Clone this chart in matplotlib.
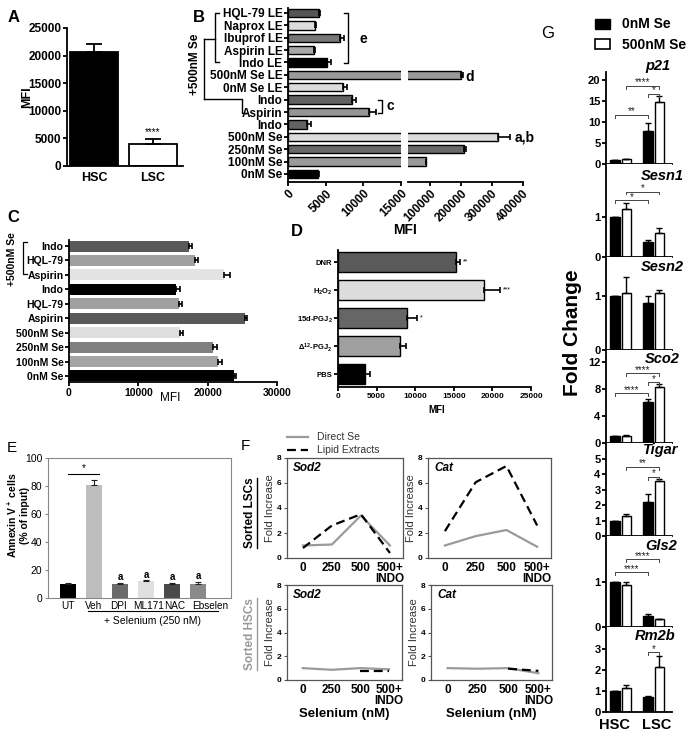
import numpy as np
import matplotlib
matplotlib.use('Agg')
import matplotlib.pyplot as plt
from matplotlib.lines import Line2D
from matplotlib.patches import Rectangle

# ---------------- data ----------------
a_cats = ['HSC', 'LSC']
a_vals = [20600, 3900]
a_errs = [1500, 1000]

b_cats = ['0nM Se', '100nM Se', '250nM Se', '500nM Se', 'Indo', 'Aspirin', 'Indo',
          '0nM Se LE', '500nM Se LE', 'Indo LE', 'Aspirin LE', 'Ibuprof LE', 'Naprox LE', 'HQL-79 LE']
b_vals = [4000, 88400, 210700, 318900, 2540, 10770, 8550, 7340, 199900, 5200, 3470, 6900, 3560, 4140]
b_errs = [150, 1000, 5000, 37800, 450, 900, 450, 450, 7600, 500, 100, 500, 100, 150]
b_xticks1 = [0, 5000, 10000, 15000]
b_xticks2 = [100000, 200000, 300000, 400000]

c_cats = ['0nM Se', '100nM Se', '250nM Se', '500nM Se', 'Aspirin', 'HQL-79', 'Indo',
          'Aspirin', 'HQL-79', 'Indo']
c_vals = [23850, 21500, 20700, 16000, 25400, 15900, 15500, 22400, 18200, 17300]
c_errs = [200, 580, 600, 450, 340, 350, 500, 800, 350, 400]

d_cats = ['PBS', 'Δ$^{12}$-PGJ$_2$', '15d-PGJ$_2$', 'H$_2$O$_2$', 'DNR']
d_vals = [3550, 8000, 9000, 18970, 15250]
d_errs = [560, 870, 1170, 1950, 560]
d_sig = ['', '', '*', '***', '**']

e_cats = ['UT', 'Veh', 'DPI', 'ML171', 'NAC', 'Ebselen']
e_vals = [10, 81, 10, 12, 10, 10]
e_errs = [0.4, 3.5, 0.6, 0.6, 0.8, 1.5]
e_sig = ['', '', 'a', 'a', 'a', 'a']

f_doses = ['0', '250', '500', '500+\nINDO']
f_sod2_lsc_direct = [1.0, 1.08, 3.4, 1.0]
f_sod2_lsc_lipid = [0.8, 2.6, 3.5, 0.4]
f_cat_lsc_direct = [1.0, 1.75, 2.24, 0.9]
f_cat_lsc_lipid = [2.15, 6.06, 7.36, 2.6]
f_sod2_hsc_direct = [1.0, 0.86, 1.0, 0.9]
f_sod2_hsc_lipid = [np.nan, np.nan, 0.8, 0.8]
f_cat_hsc_direct = [1.0, 0.95, 1.0, 0.57]
f_cat_hsc_lipid = [np.nan, np.nan, 0.95, 0.77]

g_groups = ['HSC', 'LSC']
g_genes = ['p21', 'Sesn1', 'Sesn2', 'Sco2', 'Tigar', 'Gls2', 'Rm2b']
g_vals_0 = [[1.0, 7.9], [1.0, 0.37], [1.0, 0.87], [1.0, 6.1], [1.0, 2.2], [1.0, 0.24], [1.0, 0.72]]
g_errs_0 = [[0, 1.8], [0, 0.05], [0, 0.12], [0, 0.5], [0, 0.5], [0, 0.05], [0, 0.06]]
g_vals_500 = [[1.1, 14.7], [1.2, 0.6], [1.05, 1.05], [1.1, 8.3], [1.3, 3.6], [0.93, 0.18], [1.15, 2.15]]
g_errs_500 = [[0.1, 1.4], [0.15, 0.12], [0.3, 0.06], [0.1, 0.5], [0.12, 0.12], [0.08, 0.0], [0.15, 0.5]]

# ---------------- style ----------------
plt.rcParams['font.family'] = ['Liberation Sans', 'DejaVu Sans']
plt.rcParams['mathtext.fontset'] = 'custom'
plt.rcParams['mathtext.rm'] = 'Liberation Sans:bold'
plt.rcParams['mathtext.bf'] = 'Liberation Sans:bold'
plt.rcParams['mathtext.it'] = 'Liberation Sans:italic:bold'
plt.rcParams['mathtext.default'] = 'rm'

W, H = 695, 735
fig = plt.figure(figsize=(W / 100, H / 100), dpi=100)


def rect(l, t, r, b):
    return [l / W, 1 - b / H, (r - l) / W, (b - t) / H]


def ftext(x, y, s, **kw):
    return fig.text(x / W, 1 - y / H, s, **kw)


def fline(xs, ys, **kw):
    fig.add_artist(Line2D([x / W for x in xs], [1 - y / H for y in ys],
                          transform=fig.transFigure, **kw))


def gp_axes(ax, lw=1.3):
    for s in ['top', 'right']:
        ax.spines[s].set_visible(False)
    for s in ['left', 'bottom']:
        ax.spines[s].set_linewidth(lw)
    ax.tick_params(direction='out', length=3, width=lw, pad=1)


def hbars(ax, vals, errs, colors, h, edge=True):
    y = np.arange(len(vals))
    ax.barh(y, vals, height=h, color=colors, edgecolor='black' if edge else 'none',
            linewidth=1.0)
    ax.errorbar(vals, y, xerr=[np.zeros(len(vals)), errs], fmt='none', ecolor='black',
                elinewidth=1.2, capsize=2.5, capthick=1.2)
    return y


# ---------------- Panel A ----------------
axA = fig.add_axes(rect(67, 28, 183, 166))
gp_axes(axA)
xa = np.arange(len(a_vals))
axA.bar(xa, a_vals, width=0.82, color=['black', 'white'], edgecolor='black', linewidth=1.3)
axA.errorbar(xa, a_vals, yerr=[np.zeros(2), a_errs], fmt='none', ecolor='black',
             elinewidth=1.3, capsize=6, capthick=1.3)
axA.set_xlim(-0.46, 1.51)
axA.set_ylim(0, 25000)
axA.set_yticks([0, 5000, 10000, 15000, 20000, 25000])
axA.set_xticks(xa)
axA.set_xticklabels(a_cats, fontsize=9, fontweight='bold')
axA.tick_params(axis='x', length=0, pad=4)
for lab in axA.get_yticklabels():
    lab.set_fontsize(8.5); lab.set_fontweight('bold')
axA.text(1, a_vals[1] + a_errs[1] + 300, '****', ha='center', va='bottom', fontsize=7)
ftext(27, 97, 'MFI', rotation=90, ha='center', va='center', fontsize=9, fontweight='bold')
ftext(14, 18, 'A', fontsize=12, fontweight='bold', ha='center', va='center')

# ---------------- Panel B ----------------
b_colors = ['black', '#9a9a9a', '#6a6a6a', '#dcdcdc', '#626262', '#959595', '#626262',
            '#dcdcdc', '#9a9a9a', 'black', '#a8a8a8', '#777777', '#dcdcdc', '#555555']
axB1 = fig.add_axes(rect(288, 8, 401, 182))
axB2 = fig.add_axes(rect(408, 8, 523, 182))
for ax in (axB1, axB2):
    gp_axes(ax)
    hbars(ax, b_vals, b_errs, b_colors, 0.68)
    ax.set_ylim(-0.65, 13.4)
axB1.set_xlim(0, 15000)
axB2.set_xlim(30000, 400000)
axB1.set_xticks(b_xticks1)
axB2.set_xticks(b_xticks2)
axB1.set_yticks(np.arange(len(b_cats)))
axB1.set_yticklabels(b_cats, fontsize=8.5, fontweight='bold')
axB2.spines['left'].set_visible(False)
axB2.set_yticks([])
for ax in (axB1, axB2):
    for lab in ax.get_xticklabels():
        lab.set_rotation(45); lab.set_ha('right'); lab.set_rotation_mode('anchor')
        lab.set_fontsize(8.5); lab.set_fontweight('bold')
ftext(405, 230, 'MFI', ha='center', va='center', fontsize=10, fontweight='bold')
ftext(199, 17, 'B', fontsize=12, fontweight='bold', ha='center', va='center')
ftext(195, 64, '+500nM Se', rotation=90, ha='center', va='center', fontsize=8.5,
      fontweight='bold')
lk = dict(color='black', lw=1.0)
fline([219, 215, 215, 219], [13, 13, 62, 62], **lk)
fline([204, 215], [39, 39], **lk)
fline([204, 204], [39, 99], **lk)
fline([204, 242, 242, 246], [99, 99, 113, 113], **lk)
fline([344, 348, 348, 344], [13, 13, 63, 63], **lk)
ftext(363, 39, 'e', fontsize=10, fontweight='bold', ha='center', va='center')
fline([378, 382, 382, 378], [100, 100, 113, 113], **lk)
ftext(390, 106, 'c', fontsize=10, fontweight='bold', ha='center', va='center')
ftext(470, 77, 'd', fontsize=10, fontweight='bold', ha='center', va='center')
ftext(515, 137, 'a,b', fontsize=10, fontweight='bold', ha='left', va='center')

# ---------------- Panel C ----------------
c_colors = ['black', '#a5a5a5', '#808080', '#dedede', '#595959', '#a0a0a0', 'black',
            '#e3e3e3', '#a0a0a0', '#595959']
axC = fig.add_axes(rect(69, 240, 277, 382))
gp_axes(axC)
hbars(axC, c_vals, c_errs, c_colors, 0.76, edge=False)
axC.set_xlim(0, 30000)
axC.set_ylim(-0.42, 9.42)
axC.set_xticks([0, 10000, 20000, 30000])
axC.set_yticks(np.arange(len(c_cats)))
axC.set_yticklabels(c_cats, fontsize=7.5, fontweight='bold')
for lab in axC.get_xticklabels():
    lab.set_fontsize(7.5); lab.set_fontweight('bold')
ftext(170, 398, 'MFI', ha='center', va='center', fontsize=8.5)
ftext(13, 218, 'C', fontsize=12, fontweight='bold', ha='center', va='center')
ftext(12, 259, '+500nM Se', rotation=90, ha='center', va='center', fontsize=7.5,
      fontweight='bold')
fline([27, 23, 23, 27], [242, 242, 274, 274], color='black', lw=0.9)

# ---------------- Panel D ----------------
d_colors = ['black', '#a0a0a0', '#666666', '#dcdcdc', '#5a5a5a']
axD = fig.add_axes(rect(338, 250, 531, 387))
gp_axes(axD)
yd = hbars(axD, d_vals, d_errs, d_colors, 0.72)
axD.set_xlim(0, 25000)
axD.set_ylim(-0.46, 4.43)
axD.set_xticks([0, 5000, 10000, 15000, 20000, 25000])
axD.set_yticks(yd)
axD.set_yticklabels(d_cats, fontsize=5.5, fontweight='bold')
for lab in axD.get_xticklabels():
    lab.set_fontsize(6); lab.set_fontweight('bold')
for y, v, e, s in zip(yd, d_vals, d_errs, d_sig):
    if s:
        axD.text(v + e + 400, y, s, ha='left', va='center', fontsize=5)
ftext(437, 410, 'MFI', ha='center', va='center', fontsize=7, fontweight='bold')
ftext(297, 231, 'D', fontsize=12, fontweight='bold', ha='center', va='center')

# ---------------- Panel E ----------------
e_colors = ['black', '#bdbdbd', '#6a6a6a', '#e0e0e0', '#4a4a4a', '#8a8a8a']
axE = fig.add_axes(rect(48, 458, 231, 598))
xe = np.arange(len(e_vals))
axE.bar(xe, e_vals, width=0.58, color=e_colors)
axE.errorbar(xe, e_vals, yerr=[np.zeros(len(xe)), e_errs], fmt='none', ecolor='#222',
             elinewidth=0.8, capsize=2, capthick=0.8)
for s in axE.spines.values():
    s.set_color('#888888'); s.set_linewidth(0.8)
axE.set_xlim(-0.77, 6.27)
axE.set_ylim(0, 100)
axE.set_yticks([0, 20, 40, 60, 80, 100])
axE.tick_params(axis='y', length=2, width=0.8, pad=2, labelsize=7.5, color='#888888')
axE.set_xticks(xe + np.array([0, 0, -0.04, 0.08, 0.12, 0.46]))
axE.set_xticklabels(e_cats, fontsize=7.2)
axE.tick_params(axis='x', length=0, pad=2)
for x, v, e, s in zip(xe, e_vals, e_errs, e_sig):
    if s:
        axE.text(x, v + e + 0.5, s, ha='center', va='bottom', fontsize=7, fontweight='bold')
axE.plot([0, 1.2], [88.6, 88.6], color='black', lw=0.8)
axE.text(0.6, 89, '*', ha='center', va='bottom', fontsize=7)
fline([88, 218], [611, 611], color='black', lw=0.8)
ftext(153, 621, '+ Selenium (250 nM)', ha='center', va='center', fontsize=7.5)
ftext(18, 515, 'Annexin V$^+$ cells\n(% of input)', rotation=90, ha='center', va='center',
      fontsize=7.5, fontweight='bold', linespacing=1.1)
ftext(12, 448, 'E', fontsize=11, ha='center', va='center')

# ---------------- Panel F ----------------
f_panels = [
    ((287, 458, 403, 558), 'Sod2', f_sod2_lsc_direct, f_sod2_lsc_lipid, False),
    ((428, 458, 551, 558), 'Cat', f_cat_lsc_direct, f_cat_lsc_lipid, False),
    ((287, 585, 402, 680), 'Sod2', f_sod2_hsc_direct, f_sod2_hsc_lipid, True),
    ((431, 585, 552, 680), 'Cat', f_cat_hsc_direct, f_cat_hsc_lipid, True),
]
xf = np.arange(len(f_doses))
for (l, t, r, b), name, direct, lipid, bottom in f_panels:
    ax = fig.add_axes(rect(l, t, r, b))
    ax.plot(xf, direct, color='#9a9a9a', lw=1.6)
    ax.plot(xf, lipid, color='black', lw=1.6, ls=(0, (4, 2.2)))
    ax.set_xlim(-0.55, 3.45)
    ax.set_ylim(0, 8)
    ax.set_yticks([0, 2, 4, 6, 8])
    ax.set_xticks(xf)
    ax.set_xticklabels(f_doses, fontsize=8.5, fontweight='bold', linespacing=0.85)
    for lab in ax.get_yticklabels():
        lab.set_fontsize(6); lab.set_fontweight('bold')
    for s in ax.spines.values():
        s.set_color('#555555'); s.set_linewidth(0.9)
    ax.tick_params(axis='y', length=2, width=0.8, pad=2, color='#555555')
    ax.tick_params(axis='x', length=0, pad=3)
    ax.set_ylabel('Fold Increase', fontsize=8, color='#333333', labelpad=1)
    ax.text(0.05, 0.96, name, transform=ax.transAxes, ha='left', va='top', fontsize=8.5,
            fontweight='bold', fontstyle='italic')
    if bottom:
        ax.set_xlabel('Selenium (nM)', fontsize=9.5, fontweight='bold', labelpad=1)

fline([287, 308], [437, 437], color='#9a9a9a', lw=1.6)
fline([287, 308], [450, 450], color='black', lw=1.6, ls=(0, (4, 2.2)))
ftext(317, 437, 'Direct Se', fontsize=7.5, ha='left', va='center', color='#333333')
ftext(317, 450, 'Lipid Extracts', fontsize=7.5, ha='left', va='center', color='#333333')
ftext(245, 446, 'F', fontsize=11, ha='center', va='center')
row_labels = [(250, 513, 'Sorted LSCs', 'black'), (250, 634, 'Sorted HSCs', '#9a9a9a')]
row_texts = []
for x, y, s, c in row_labels:
    row_texts.append((ftext(x, y, s, rotation=90, ha='center', va='center', fontsize=8.5,
                            fontweight='bold', color=c), c))

# ---------------- Panel G ----------------
g_px = [(72, 164), (164, 257), (257, 350), (350, 443), (443, 536), (536, 627), (627, 712)]
g_ylim = [21.9, 2.33, 1.72, 13.8, 6.04, 2.02, 4.05]
g_yticks = [[0, 5, 10, 15, 20], [0, 1], [0, 1], [0, 4, 8, 12], [0, 1, 2, 3, 4, 5], [0, 1],
            [0, 1, 2, 3]]
g_title_y = [66, 176, 267, 359, 450, 546, 636]
g_title_x = [658, 662, 662, 662, 661, 661, 655]
# brackets: (x1, x2, height, label)
g_brackets = [
    [(-0.17, 0.83, 11.7, '**'), (0.17, 1.17, 18.6, '****'), (0.83, 1.17, 16.7, '*')],
    [(-0.17, 0.83, 1.42, '*'), (0.17, 1.17, 1.64, '*')],
    [],
    [(-0.17, 0.83, 7.4, '****'), (0.17, 1.17, 10.4, '****'), (0.83, 1.17, 9.0, '*')],
    [(0.17, 1.17, 4.5, '**'), (0.83, 1.17, 3.85, '*')],
    [(-0.17, 0.83, 1.22, '****'), (0.17, 1.17, 1.51, '****')],
    [(0.83, 1.17, 2.85, '*')],
]
xg = np.arange(len(g_groups))
for i, gene in enumerate(g_genes):
    t, b = g_px[i]
    ax = fig.add_axes(rect(606, t, 672, b))
    gp_axes(ax, lw=1.3)
    ax.bar(xg - 0.17, g_vals_0[i], width=0.3, color='black', edgecolor='black', linewidth=1.0)
    ax.bar(xg + 0.17, g_vals_500[i], width=0.3, color='white', edgecolor='black', linewidth=1.0)
    ax.errorbar(xg - 0.17, g_vals_0[i], yerr=[np.zeros(2), g_errs_0[i]], fmt='none',
                ecolor='black', elinewidth=1.0, capsize=2.5, capthick=1.0)
    ax.errorbar(xg + 0.17, g_vals_500[i], yerr=[np.zeros(2), g_errs_500[i]], fmt='none',
                ecolor='black', elinewidth=1.0, capsize=2.5, capthick=1.0)
    ax.set_xlim(-0.45, 1.55)
    ax.set_ylim(0, g_ylim[i])
    ax.set_yticks(g_yticks[i])
    for lab in ax.get_yticklabels():
        lab.set_fontsize(8); lab.set_fontweight('bold')
    drop = g_ylim[i] * 0.03
    for x1, x2, hgt, s in g_brackets[i]:
        ax.plot([x1, x1, x2, x2], [hgt - drop, hgt, hgt, hgt - drop], color='#444444',
                lw=0.7, clip_on=False)
        ax.text((x1 + x2) / 2, hgt - drop * 0.6, s, ha='center', va='bottom', fontsize=7,
                color='#222222')
    if i == len(g_genes) - 1:
        ax.set_xticks([-0.2, 1.09])
        ax.set_xticklabels(g_groups, fontsize=10.5, fontweight='bold')
        ax.tick_params(axis='x', length=0, pad=4)
    else:
        ax.set_xticks([])
    ftext(g_title_x[i], g_title_y[i], gene, ha='center', va='center', fontsize=10.5,
          fontweight='bold', fontstyle='italic')

ftext(573, 333, 'Fold Change', rotation=90, ha='center', va='center', fontsize=15,
      fontweight='bold')
ftext(548, 33, 'G', fontsize=12, ha='center', va='center')
fig.add_artist(Rectangle((595 / W, 1 - 29 / H), 15 / W, 10 / H, transform=fig.transFigure,
                         facecolor='black', edgecolor='black', lw=1))
fig.add_artist(Rectangle((595 / W, 1 - 49 / H), 15 / W, 10 / H, transform=fig.transFigure,
                         facecolor='white', edgecolor='black', lw=1.2))
ftext(622, 24, '0nM Se', fontsize=10, fontweight='bold', ha='left', va='center')
ftext(622, 45, '500nM Se', fontsize=10, fontweight='bold', ha='left', va='center')

# underline row labels of panel F
fig.canvas.draw()
for txt, c in row_texts:
    bb = txt.get_window_extent()
    x = (bb.x1 + 0.5) / W
    fig.add_artist(Line2D([x, x], [bb.y0 / H, bb.y1 / H], transform=fig.transFigure,
                          color=c, lw=1.0))

fig.savefig('out.png', dpi=100)
